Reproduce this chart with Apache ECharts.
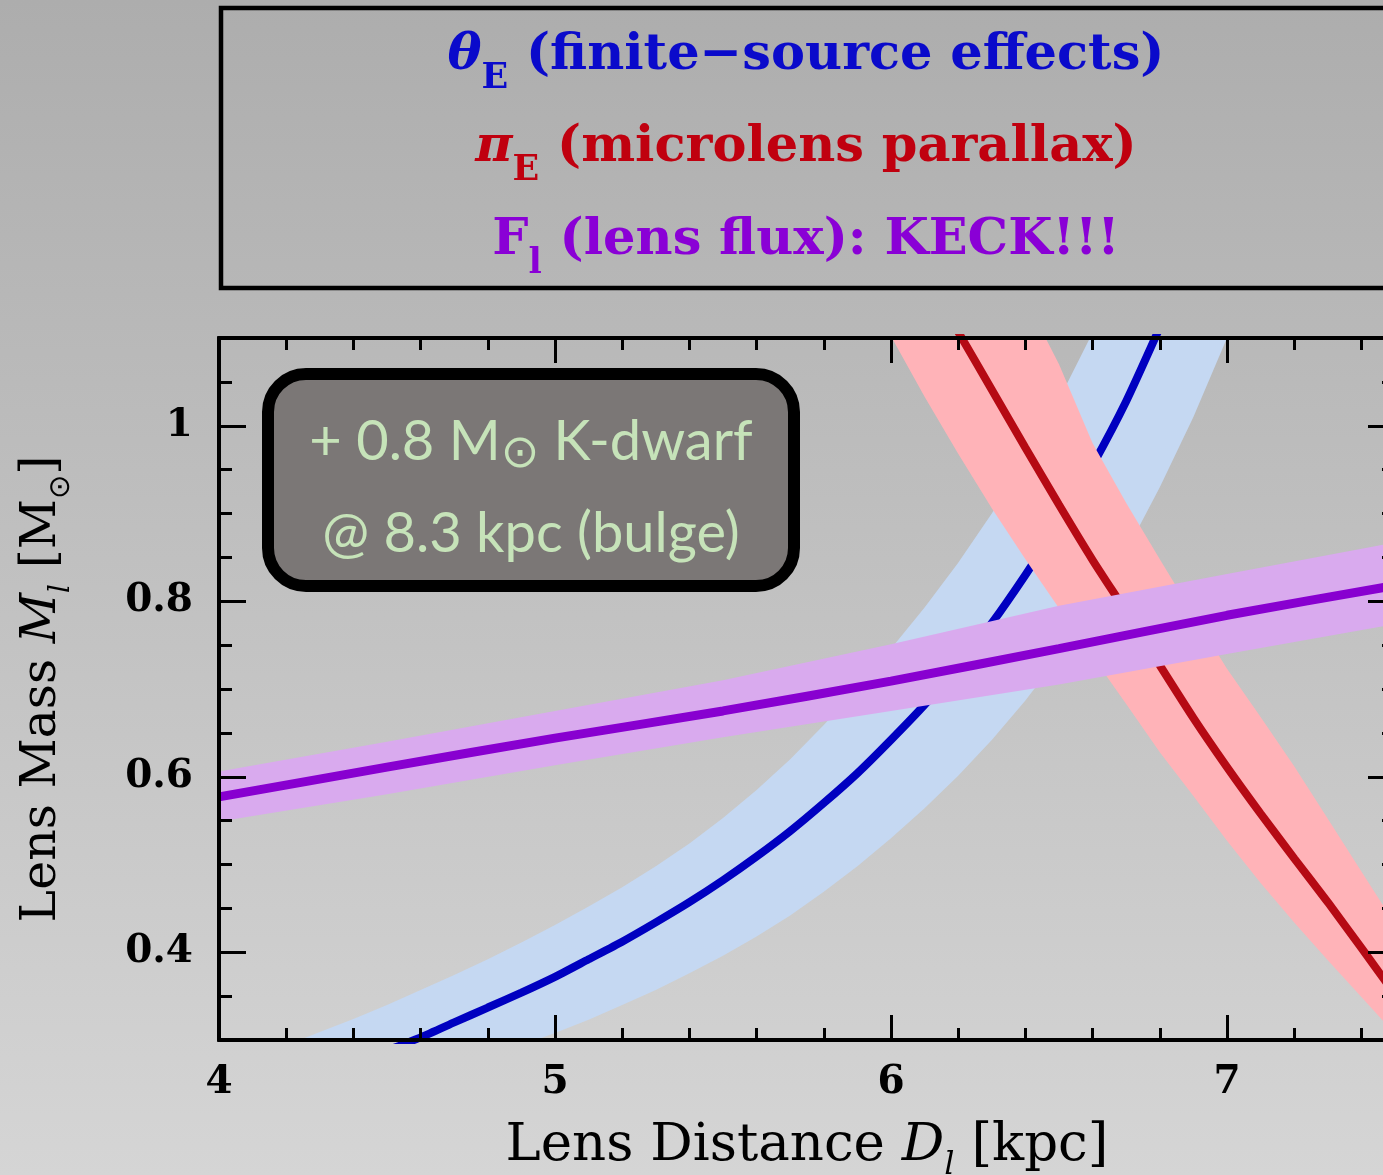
<!DOCTYPE html>
<html>
<head>
<meta charset="utf-8">
<title>Lens mass vs lens distance</title>
<script src="https://cdn.jsdelivr.net/npm/echarts@6/dist/echarts.min.js"></script>
<style>
  html, body { margin: 0; padding: 0; }
  #chart { width: 1383px; height: 1175px; }
</style>
</head>
<body>
<div id="chart"></div>
<script>
// Axis ranges and tick positions
const xRange = [4, 7.5];
const yRange = [0.3, 1.1];
const xMajorTicks = [4, 5, 6, 7];
const xMinorTicks = [4.2, 4.4, 4.6, 4.8, 5.2, 5.4, 5.6, 5.8, 6.2, 6.4, 6.6, 6.8, 7.2, 7.4];
const yMajorTicks = [0.4, 0.6, 0.8, 1];
const yMinorTicks = [0.35, 0.45, 0.5, 0.55, 0.65, 0.7, 0.75, 0.85, 0.9, 0.95, 1.05];

// Einstein radius constraint (finite-source effects): [D_l (kpc), M_l (Msun)]
const thetaLine = [[4.5, 0.288], [4.6, 0.303], [4.7, 0.320], [4.8, 0.337], [4.9, 0.354], [5.0, 0.372],
  [5.1, 0.392], [5.2, 0.412], [5.3, 0.434], [5.4, 0.457], [5.5, 0.482], [5.6, 0.509], [5.7, 0.538],
  [5.8, 0.570], [5.9, 0.604], [6.0, 0.642], [6.1, 0.682], [6.2, 0.726], [6.3, 0.775], [6.4, 0.830],
  [6.5, 0.889], [6.6, 0.955], [6.7, 1.028], [6.8, 1.112]];
const thetaUpper = [[4.2, 0.294], [4.3, 0.309], [4.4, 0.324], [4.5, 0.340], [4.6, 0.357], [4.7, 0.374],
  [4.8, 0.392], [4.9, 0.411], [5.0, 0.431], [5.1, 0.452], [5.2, 0.474], [5.3, 0.498], [5.4, 0.524],
  [5.5, 0.553], [5.6, 0.585], [5.7, 0.620], [5.8, 0.659], [5.9, 0.701], [6.0, 0.746], [6.1, 0.793],
  [6.2, 0.844], [6.3, 0.900], [6.4, 0.961], [6.5, 1.030], [6.6, 1.106]];
const thetaLower = [[4.9, 0.294], [5.0, 0.308], [5.1, 0.323], [5.2, 0.340], [5.3, 0.357], [5.4, 0.376],
  [5.5, 0.396], [5.6, 0.418], [5.7, 0.442], [5.8, 0.469], [5.9, 0.498], [6.0, 0.530], [6.1, 0.564],
  [6.2, 0.601], [6.3, 0.642], [6.4, 0.687], [6.5, 0.737], [6.6, 0.793], [6.7, 0.857], [6.8, 0.930],
  [6.9, 1.010], [7.0, 1.100], [7.1, 1.205]];

// Microlens parallax constraint
const piLine = [[6.2, 1.107], [6.3, 1.041], [6.4, 0.975], [6.5, 0.910], [6.6, 0.847], [6.7, 0.788], [6.8, 0.727],
  [6.9, 0.667], [7.0, 0.611], [7.1, 0.558], [7.2, 0.507], [7.3, 0.457], [7.4, 0.405], [7.5, 0.352]];
const piLower = [[6.0, 1.102], [6.1, 1.033], [6.2, 0.968], [6.3, 0.906], [6.4, 0.848], [6.5, 0.792], [6.6, 0.737],
  [6.7, 0.683], [6.8, 0.628], [6.9, 0.578], [7.0, 0.527], [7.1, 0.479], [7.2, 0.434], [7.3, 0.391], [7.4, 0.349], [7.5, 0.307]];
const piUpper = [[6.4, 1.145], [6.5, 1.070], [6.6, 0.980], [6.7, 0.912], [6.8, 0.848], [6.9, 0.785], [7.0, 0.723],
  [7.1, 0.668], [7.2, 0.612], [7.3, 0.552], [7.4, 0.492], [7.5, 0.432]];

// Lens flux constraint
const fluxLine = [[4.0, 0.577], [4.5, 0.611], [5.0, 0.644], [5.5, 0.675], [6.0, 0.709], [6.5, 0.746], [7.0, 0.784], [7.5, 0.818]];
const fluxUpper = [[4.0, 0.606], [4.5, 0.640], [5.0, 0.675], [5.5, 0.710], [6.0, 0.751], [6.5, 0.795], [7.0, 0.831], [7.5, 0.867]];
const fluxLower = [[4.0, 0.549], [4.5, 0.580], [5.0, 0.613], [5.5, 0.645], [6.0, 0.675], [6.5, 0.705], [7.0, 0.740], [7.5, 0.774]];

const SERIF = '"DejaVu Serif", serif';
const SANS = 'Lato, "Noto Sans", sans-serif';
const SYMBOL = '"DejaVu Sans", sans-serif';

const chart = echarts.init(document.getElementById('chart'), null, { renderer: 'canvas' });

// Shaded band between two edges, clipped to the plotting area
function band(name, upper, lower, color, z) {
  return {
    name: name, type: 'custom', z: z, silent: true, clip: true,
    xAxisIndex: 0, yAxisIndex: 0,
    data: [[xRange[0], yRange[0]]],
    renderItem: function (params, api) {
      const pts = upper.map(p => api.coord(p)).concat(lower.slice().reverse().map(p => api.coord(p)));
      const cs = params.coordSys;
      return {
        type: 'polygon',
        shape: { points: pts },
        style: { fill: color },
        clipPath: { type: 'rect', shape: { x: cs.x, y: cs.y, width: cs.width, height: cs.height } }
      };
    }
  };
}

function curve(name, data, color, width, z) {
  return {
    name: name, type: 'line', z: z, data: data, smooth: 0.2,
    showSymbol: false, clip: true, silent: true,
    xAxisIndex: 0, yAxisIndex: 0,
    lineStyle: { color: color, width: width, cap: 'butt' }
  };
}

const axisLineStyle = { show: true, lineStyle: { color: '#000', width: 4 } };
const hidden = { show: false };

function xAxisDef(position, ticks, len, withLabels) {
  return {
    type: 'value', position: position, min: xRange[0], max: xRange[1], z: 20,
    axisLine: axisLineStyle,
    axisTick: { show: true, inside: true, length: len, customValues: ticks, lineStyle: { color: '#000', width: 3 } },
    axisLabel: withLabels ? {
      show: true, customValues: xMajorTicks, margin: 23,
      fontFamily: SERIF, fontWeight: 'bold', fontSize: 39, color: '#000'
    } : hidden,
    splitLine: hidden, minorTick: hidden
  };
}
function yAxisDef(position, ticks, len, withLabels) {
  return {
    type: 'value', position: position, min: yRange[0], max: yRange[1], z: 20,
    axisLine: axisLineStyle,
    axisTick: { show: true, inside: true, length: len, customValues: ticks, lineStyle: { color: '#000', width: 3 } },
    axisLabel: withLabels ? {
      show: true, customValues: yMajorTicks, margin: 26,
      fontFamily: SERIF, fontWeight: 'bold', fontSize: 39, color: '#000'
    } : hidden,
    splitLine: hidden, minorTick: hidden
  };
}

function titleRich(size) {
  const sub = Math.round(size * 0.6);
  return {
    t: { fontFamily: SERIF, fontSize: size, color: '#000', lineHeight: size + 9, verticalAlign: 'top' },
    i: { fontFamily: SERIF, fontStyle: 'italic', fontSize: size, color: '#000', lineHeight: size + 9, verticalAlign: 'top' },
    s: { fontFamily: SERIF, fontStyle: 'italic', fontSize: sub, color: '#000', lineHeight: sub + 12, verticalAlign: 'bottom' },
    o: { fontFamily: SYMBOL, fontSize: sub, color: '#000', lineHeight: sub + 12, verticalAlign: 'bottom' }
  };
}

const xMain = xAxisDef('bottom', xMajorTicks, 25, true);
xMain.name = '{t|Lens Distance }{i|D}{s|l}{t| [kpc]}';
xMain.nameLocation = 'middle';
xMain.nameGap = 80;
xMain.nameTextStyle = { color: '#000', rich: titleRich(53) };

const yMain = yAxisDef('left', yMajorTicks, 27, true);
yMain.name = '{t|Lens Mass }{i|M}{s|l}{t| [M}{o|⊙}{t|]}';
yMain.nameLocation = 'middle';
yMain.nameGap = 143;
yMain.nameRotate = 90;
yMain.nameTextStyle = { color: '#000', rich: titleRich(49) };

const legendRich = {
  b: { fontFamily: SERIF, fontWeight: 'bold', fontSize: 51, lineHeight: 66, verticalAlign: 'top' },
  g: { fontFamily: SERIF, fontWeight: 'bold', fontStyle: 'italic', fontSize: 51, lineHeight: 66, verticalAlign: 'top' },
  s: { fontFamily: SERIF, fontWeight: 'bold', fontSize: 35, lineHeight: 40, verticalAlign: 'bottom' }
};
function legendLine(text, y, color) {
  const rich = {};
  Object.keys(legendRich).forEach(k => { rich[k] = Object.assign({}, legendRich[k], { fill: color }); });
  return {
    type: 'text', x: 806, y: y, z: 50, silent: true,
    style: { text: text, rich: rich, align: 'center', verticalAlign: 'middle', fill: color }
  };
}

const noteRich = {
  t: { fontFamily: SANS, fontSize: 56, fill: '#c6e3b9', lineHeight: 64, verticalAlign: 'top' },
  o: { fontFamily: SYMBOL, fontSize: 46, fill: '#c6e3b9', lineHeight: 26, verticalAlign: 'bottom' }
};

const option = {
  animation: false,
  grid: { left: 219, top: 338, width: 1176, height: 702, containLabel: false, outerBoundsMode: 'none' },
  xAxis: [
    xMain,
    xAxisDef('bottom', xMinorTicks, 12, false),
    xAxisDef('top', xMajorTicks, 25, false),
    xAxisDef('top', xMinorTicks, 12, false)
  ],
  yAxis: [
    yMain,
    yAxisDef('left', yMinorTicks, 13, false),
    yAxisDef('right', yMajorTicks, 27, false),
    yAxisDef('right', yMinorTicks, 13, false)
  ],
  graphic: [
    {
      type: 'rect', z: -100, silent: true,
      shape: { x: 0, y: 0, width: 1383, height: 1175 },
      style: {
        fill: new echarts.graphic.LinearGradient(0, 0, 0, 1, [
          { offset: 0, color: '#adadad' },
          { offset: 1, color: '#d5d5d5' }
        ])
      }
    },
    {
      type: 'rect', z: 40, silent: true,
      shape: { x: 221, y: 8, width: 1172, height: 280 },
      style: { fill: 'none', stroke: '#000', lineWidth: 4.5 }
    },
    legendLine('{g|θ}{s|E}{b| (finite−source effects)}', 63, '#0a0acb'),
    legendLine('{g|π}{s|E}{b| (microlens parallax)}', 155, '#c0000f'),
    legendLine('{b|F}{s|l}{b| (lens flux): KECK!!!}', 248, '#8a00d6'),
    {
      type: 'rect', z: 60, silent: true,
      shape: { x: 268, y: 374, width: 526, height: 212, r: 38 },
      style: { fill: '#7b7776', stroke: '#000', lineWidth: 12 }
    },
    {
      type: 'text', x: 531, y: 446, z: 61, silent: true,
      style: { text: '{t|+ 0.8 M}{o|⊙}{t| K-dwarf}', rich: noteRich, align: 'center', verticalAlign: 'middle' }
    },
    {
      type: 'text', x: 531, y: 538, z: 61, silent: true,
      style: { text: '{t|@ 8.3 kpc (bulge)}', rich: noteRich, align: 'center', verticalAlign: 'middle' }
    }
  ],
  series: [
    band('θE band', thetaUpper, thetaLower, '#c5d8f2', 2),
    curve('θE', thetaLine, '#0000c0', 8, 3),
    band('πE band', piUpper, piLower, '#ffb3b8', 4),
    curve('πE', piLine, '#b50a14', 8, 5),
    band('Fl band', fluxUpper, fluxLower, '#d9aaee', 6),
    curve('Fl', fluxLine, '#8800d0', 9, 7)
  ]
};

chart.setOption(option);
</script>
</body>
</html>
